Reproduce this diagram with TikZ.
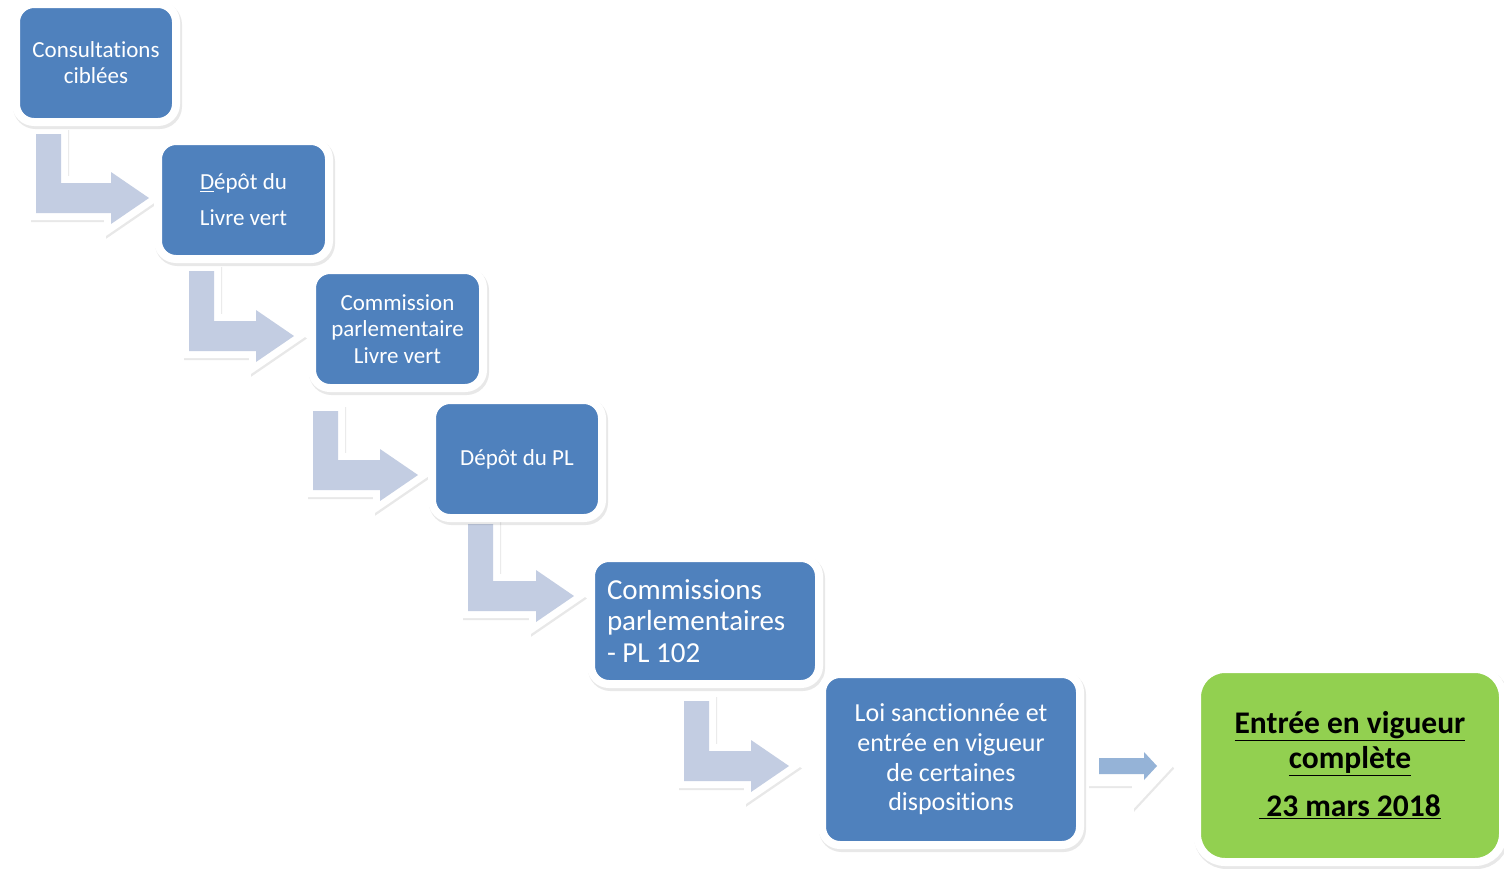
\documentclass[tikz,border=0pt]{standalone}
\usepackage{fontspec}
\setmainfont{Carlito}[Ligatures=NoCommon]
\usetikzlibrary{calc}
\pgfdeclarelayer{back}
\pgfsetlayers{back,main}

\definecolor{stepblue}{HTML}{4F81BD}
\definecolor{stepgreen}{HTML}{92D050}
\definecolor{bendgrey}{HTML}{C3CDE2}
\definecolor{linkblue}{HTML}{95B3D7}

\tikzset{
  softshadow/.style={preaction={draw=black, draw opacity=0.09, line width=#1,
      transform canvas={shift={(1.5pt,-2.5pt)}}}},
  stepbox/.style={rectangle, rounded corners=18pt, fill=stepblue, draw=white,
      line width=8pt, softshadow=9pt, text=white, align=center, inner sep=0pt},
  goalbox/.style={stepbox, rounded corners=28pt, fill=stepgreen, text=black},
  bendarrow/.style={fill=bendgrey, softshadow=13pt,
      preaction={draw=white, line width=14pt}},
  linkarrow/.style={fill=linkblue, softshadow=23pt,
      preaction={draw=white, line width=24pt}},
}

% bent arrow: from box, to box, shaft offset, tip offset
\newcommand\bendlink[4]{%
  \coordinate (top) at ($(#1.south west)+(#3)$);
  \coordinate (tip) at ($(#2.west)+(#4)$);
  \path[bendarrow] (top) -- ++(25,0) |- ($(tip)+(-38,-15)$) -- ++(0,-11) -- (tip)
    -- ($(tip)+(-38,26)$) -- ++(0,-11) -- ($(top |- tip)+(0,15)$) -- cycle;
}

\begin{document}
\begin{tikzpicture}[x=1pt,y=-1pt]
    \useasboundingbox (0,0) rectangle (1504,868);

    %% steps
    \node[stepbox, minimum width=160, minimum height=118,
          font=\fontsize{23}{26}\selectfont] (cons) at (96,63)
          {Consultations\\ciblées};
    \node[stepbox, minimum width=171, minimum height=118,
          font=\fontsize{23}{36}\selectfont] (livre) at (243.5,200)
          {\underline{D}épôt du\\Livre vert};
    \node[stepbox, minimum width=171, minimum height=118,
          font=\fontsize{23}{26.5}\selectfont] (comlv) at (397.5,329)
          {Commission\\parlementaire\\Livre vert};
    \node[stepbox, minimum width=170, minimum height=118,
          font=\fontsize{23}{26}\selectfont] (depot) at (517,459)
          {Dépôt du PL};
    \node[stepbox, minimum width=228, minimum height=126, text width=196,
          align=flush left, font=\fontsize{29}{31.5}\selectfont] (compl) at (705,621)
          {Commissions\\parlementaires\\- PL 102};
    \node[stepbox, minimum width=258, minimum height=171,
          font=\fontsize{26}{29.7}\selectfont] (loi) at (951,759.5)
          {Loi sanctionnée et\\entrée en vigueur\\de certaines\\dispositions};
    \node[goalbox, minimum width=306, minimum height=193,
          font=\fontsize{31.5}{35}\selectfont\bfseries] (full) at (1350,765.5)
          {\underline{Entrée en vigueur}\\\underline{complète}\\[13pt]
           \underline{\ 23 mars 2018}};

    %% arrows behind the boxes
    \begin{pgfonlayer}{back}
        \bendlink{cons}{livre}{24,8}{-5,-2}
        \bendlink{livre}{comlv}{35,8}{-14,7}
        \bendlink{comlv}{depot}{5,19}{-10,16}
        \bendlink{depot}{compl}{40,2}{-13,-25}
        \bendlink{compl}{loi}{97,13}{-29,6.5}
        \coordinate (a) at ($(loi.east)+(15,6.5)$);
        \coordinate (b) at ($(full.west)+(-36,0.5)$);
        \path[linkarrow] ($(a)+(0,-8)$) -- ($(b)+(-13,-8)$) -- ($(b)+(-13,-14)$)
            -- (b) -- ($(b)+(-13,14)$) -- ($(b)+(-13,8)$) -- ($(a)+(0,8)$) -- cycle;
    \end{pgfonlayer}
\end{tikzpicture}
\end{document}
